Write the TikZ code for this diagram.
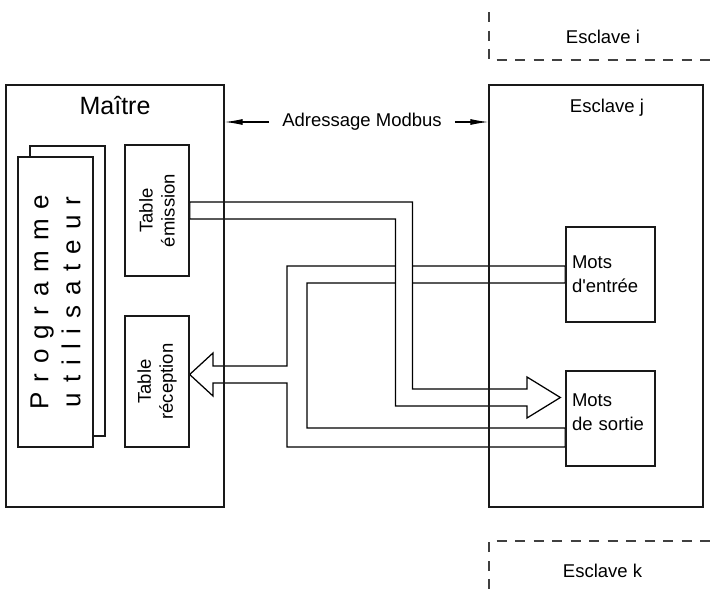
\documentclass[tikz,border=0pt]{standalone}
\usepackage{fontspec}
\setmainfont{Liberation Sans}
\usetikzlibrary{arrows.meta, backgrounds}

\begin{document}
\begin{tikzpicture}[
        x=1pt, y=-1pt,
        every node/.style={font=\fontsize{18.5}{22}\selectfont},
        cadre/.style={rectangle, draw=black!90, line width=1.3pt, inner sep=0pt},
        tabbox/.style={cadre, fill=white, minimum width=64pt, minimum height=131pt},
        motbox/.style={cadre, minimum width=89pt, minimum height=95pt, text width=77pt, align=left, inner xsep=6pt, font=\fontsize{18.5}{24}\selectfont},
        vert/.style={rotate=90, align=center},
        tuyau/.style={draw=black, line width=1.25pt, fill=white},
        esclave/.style={draw=black!75, line width=1.3pt, dash pattern=on 10pt off 8.5pt},
        fleche/.style={-{Latex[length=18pt, width=6pt]}, line width=1.1pt}
    ]
    \useasboundingbox (0,0) rectangle (710,589);

    % maitre et esclave j
    \node[cadre, minimum width=218pt, minimum height=422pt] (maitre) at (115,296) {};
    \node[cadre, minimum width=214pt, minimum height=422pt] (esclavej) at (596,296) {};
    \node[anchor=base, font=\fontsize{25}{30}\selectfont] (tmaitre) at (115,114) {Maître};
    \node[anchor=base] (tesclavej) at (607,112) {Esclave j};

    % programme utilisateur
    \node[cadre, fill=white, minimum width=75pt, minimum height=290pt] (progb) at (67.5,291) {};
    \node[cadre, fill=white, minimum width=75pt, minimum height=290pt] (prog) at (55.5,302) {};
    \node[vert, font={\fontsize{26}{32}\selectfont\addfontfeature{LetterSpace=38}}] (tprog) at (prog.center) {Programme\\utilisateur};

    % tables
    \node[tabbox] (temission) at (157,210.5) {};
    \node[tabbox] (treception) at (157,381.5) {};
    \node[vert] (ttemission) at (temission.center) {Table\\émission};
    \node[vert] (ttreception) at (treception.center) {Table\\réception};

    % mots
    \node[motbox] (mentree) at (610.5,274.5) {Mots\\d\textquotesingle entrée};
    \node[motbox, text depth=36pt] (msortie) at (610.5,418.5) {Mots\\de sortie};

    % adressage
    \node[inner xsep=13pt] (adr) at (362,122) {Adressage Modbus};
    \draw[fleche] (adr.west) -- (adr.west -| maitre.east);
    \draw[fleche] (adr.east) -- (adr.east -| esclavej.west);

    % esclaves i et k
    \draw[esclave] (489,12) -- (489,60) -- (710,60);
    \node[anchor=base] (tesclavei) at (603,43) {Esclave i};
    \draw[esclave] (489,589) -- (489,541) -- (710,541);
    \node[anchor=base] (tesclavek) at (602.5,577) {Esclave k};

    \begin{pgfonlayer}{background}
    % entree -> reception, sortie
    \draw[tuyau] ([yshift=8.5pt]mentree.west) -| (287,366) -- (213,366) -- (213,353)
        -- ([yshift=7pt]treception.east) -- (213,396) -- (213,383) -- (287,383)
        |- ([yshift=-28.5pt]msortie.west) -- ([yshift=-9.5pt]msortie.west) -| (307,283)
        -- ([yshift=-8.5pt]mentree.west) -- cycle;
    % emission -> sortie
    \draw[tuyau] ([yshift=8.5pt]temission.east) -| (412.5,389) -- (527,389) -- (527,377)
        -- ([xshift=-5pt, yshift=21pt]msortie.west) -- (527,418) -- (527,406) -- (395.5,406)
        |- ([yshift=-8.5pt]temission.east) -- cycle;
    \end{pgfonlayer}
\end{tikzpicture}
\end{document}
